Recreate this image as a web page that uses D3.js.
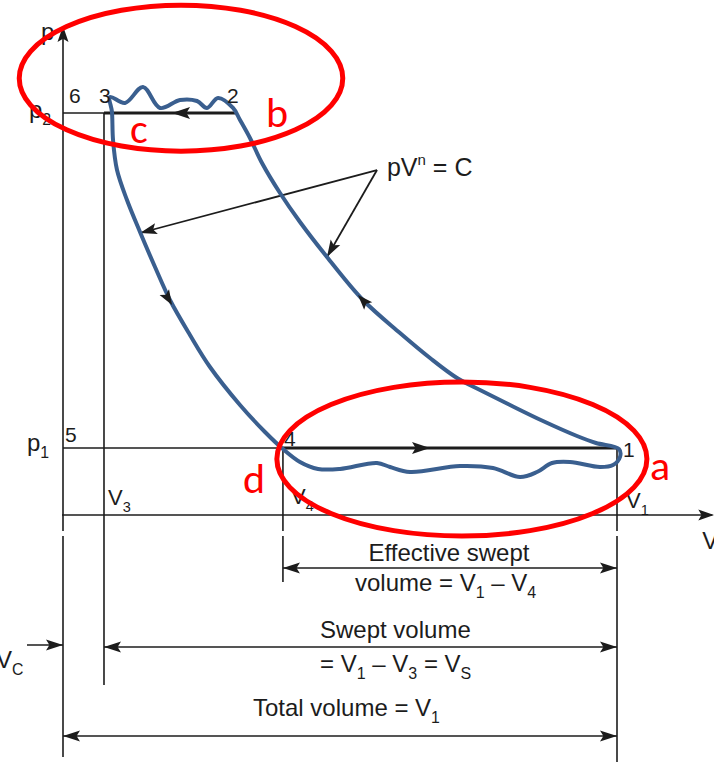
<!DOCTYPE html>
<html><head><meta charset="utf-8">
<script src="https://cdn.jsdelivr.net/npm/d3@7"></script>
<style>body{margin:0;background:#fff}svg{display:block}</style>
</head><body><svg id="c" width="714" height="762"></svg>
<script>
// ---- data (V, p) in arbitrary units ----
const V1 = 10, V2 = 3.105, V3 = 0.74, V4 = 3.97;
const p1 = 1, p2 = 6;
const Vmax = 11.72, pMax = 7.27;

// blue hand-drawn cycle: expansion 3->4, wavy suction 4->1, compression 1->2, wavy delivery 2->3
const expansionCurve = [[0.848,6.239],[0.884,6.015],[0.903,5.597],[0.975,5.149],[1.155,4.701],[1.390,4.224],[1.661,3.701],[1.931,3.209],[2.292,2.687],[2.653,2.209],[3.195,1.642],[3.646,1.239],[3.971,0.985],[4.278,0.791],[4.603,0.687]];
const suctionWave = [[5.000,0.687],[5.668,0.776],[5.903,0.716],[6.264,0.642],[7.166,0.731],[7.762,0.701],[8.249,0.567],[8.556,0.642],[8.827,0.776],[9.152,0.791],[9.693,0.716],[9.928,0.746],[10.054,0.866],[10.036,0.985]];
const compressionCurve = [[9.621,1.075],[9.278,1.179],[8.664,1.403],[8.069,1.642],[7.527,1.866],[7.112,2.045],[6.625,2.343],[6.083,2.716],[5.415,3.209],[4.765,3.851],[4.278,4.373],[3.917,4.806],[3.592,5.254],[3.375,5.627],[3.195,5.896],[3.069,6.075]];
const deliveryWave = [[2.798,6.224],[2.599,6.075],[2.419,6.179],[2.112,6.194],[1.751,6.075],[1.444,6.388],[1.119,6.149]];

// flow arrows on the curves [from, to]
const flowArrows = [[[1.751,3.433],[1.968,3.134]], [[5.542,3.090],[5.325,3.284]]];
// leader arrows for pV^n = C
const leaderOrigin = [5.668,5.149];
const leaderTips = [[1.390,4.209],[4.765,3.851]];
const lawLabelPos = [5.848,5.06];

// state point labels
const stateLabels = [
  {t:"6", V:0, p:p2, dx:6, dy:-10},
  {t:"3", V:V3, p:p2, dx:-5, dy:-10},
  {t:"2", V:V2, p:p2, dx:-8, dy:-10},
  {t:"5", V:0, p:p1, dx:2, dy:-6},
  {t:"4", V:V4, p:p1, dx:1, dy:-2},
  {t:"1", V:V1, p:p1, dx:6, dy:9}
];
// red annotation ellipses (center V,p and radii in V,p units)
const ellipses = [{V:2.13,p:6.52,rV:2.92,rp:1.09},{V:7.20,p:0.836,rV:3.34,rp:1.15}];
const redLabels = [{t:"a",V:10.596,p:0.522},{t:"b",V:3.664,p:5.791},{t:"c",V:1.209,p:5.552},{t:"d",V:3.249,p:0.328}];

// ---- scales ----
const x = d3.scaleLinear().domain([0, V1]).range([63, 617]);
const y = d3.scaleLinear().domain([0, p2]).range([515, 113]);

const svg = d3.select("#c");
svg.append("rect").attr("width",714).attr("height",762).attr("fill","#fff");
const ink = "#1c1c1c";
const FONT = "'Liberation Sans', Arial, Helvetica, sans-serif";

function line(x1,y1,x2,y2,w){ svg.append("line").attr("x1",x1).attr("y1",y1).attr("x2",x2).attr("y2",y2).attr("stroke",ink).attr("stroke-width",w||1.6); }
function head(tx,ty,ang,len,wid){
  const c=Math.cos(ang), s=Math.sin(ang);
  const bx=tx-c*len, by=ty-s*len;
  const pts=[[tx,ty],[bx - s*wid/2, by + c*wid/2],[tx-c*len*0.8, ty-s*len*0.8],[bx + s*wid/2, by - c*wid/2]];
  svg.append("polygon").attr("points",pts.map(d=>d.join(",")).join(" ")).attr("fill",ink);
}
function arrowTo(x1,y1,x2,y2,len,wid){ head(x2,y2,Math.atan2(y2-y1,x2-x1),len,wid); }

const y0 = y(0);
// axes
line(x(0), y(pMax), x(0), y0);
arrowTo(x(0), y0, x(0), y(pMax)-2, 16, 11);
line(x(0)-1, y0, x(Vmax), y0);
arrowTo(x(0), y0, x(Vmax)+2, y0, 16, 11);

// verticals below / above
function vWithGap(xx, top, bottom){
  line(xx, top, xx, y0+16); line(xx, y0+21, xx, bottom);
}
vWithGap(x(0), y0, 757);
line(x(V3), y(p2), x(V3), 685);
line(x(V4), y(p1), x(V4), y0); vWithGap(x(V4), y0, 582);
line(x(V1), y(p1), x(V1), y0); vWithGap(x(V1), y0, 762);

// pressure lines
line(x(0), y(p2), x(V3), y(p2));
line(x(V3), y(p2), x(V2), y(p2), 3);
head(x(1.968), y(p2), Math.PI, 18, 12);
line(x(0), y(p1), x(V4), y(p1));
line(x(V4), y(p1), x(V1), y(p1), 3);
head(x(6.625), y(p1), 0, 18, 12);

// leader arrows
leaderTips.forEach(t=>{
  line(x(leaderOrigin[0]), y(leaderOrigin[1]), x(t[0]), y(t[1]), 1.8);
  arrowTo(x(leaderOrigin[0]), y(leaderOrigin[1]), x(t[0]), y(t[1]), 17, 11);
});
const law = svg.append("text").attr("x",x(lawLabelPos[0])).attr("y",y(lawLabelPos[1])).attr("font-family",FONT).attr("font-size",25).attr("fill",ink);
law.append("tspan").text("pV");
law.append("tspan").attr("dy",-11).attr("font-size",15).text("n");
law.append("tspan").attr("dy",11).text(" = C");

// blue cycle
const cycle = expansionCurve.concat(suctionWave, compressionCurve, deliveryWave);
svg.append("path").datum(cycle)
  .attr("d", d3.line().x(d=>x(d[0])).y(d=>y(d[1])).curve(d3.curveCatmullRomClosed.alpha(0.5)))
  .attr("fill","none").attr("stroke","#3a5f8f").attr("stroke-width",4).attr("stroke-linejoin","round");

flowArrows.forEach(a=> arrowTo(x(a[0][0]),y(a[0][1]),x(a[1][0]),y(a[1][1]),15,11));

// labels
function txt(t,xx,yy,size,anchor){ return svg.append("text").attr("x",xx).attr("y",yy).attr("font-family",FONT).attr("font-size",size).attr("fill",ink).attr("text-anchor",anchor||"start").text(t); }
stateLabels.forEach(d=> txt(d.t, x(d.V)+d.dx, y(d.p)+d.dy, 21));
function sub(main, s, xx, yy, size, anchor){
  const t = svg.append("text").attr("x",xx).attr("y",yy).attr("font-family",FONT).attr("font-size",size).attr("fill",ink).attr("text-anchor",anchor||"start");
  t.append("tspan").text(main);
  t.append("tspan").attr("dy",size*0.3).attr("font-size",size*0.66).text(s);
  return t;
}
txt("p", x(0)-22, y(pMax)+12, 24);
sub("p","2", x(0)-34, y(p2)+5, 24);
sub("p","1", x(0)-36, y(p1)+3, 24);
sub("V","3", x(V3)+4, y0-10, 22);
sub("V","4", x(V4)+8, y0-11, 22);
sub("V","1", x(V1)+9, y0-7, 22);
txt("V", x(Vmax)-10, y0+34, 24);

// dimension arrows
function dim(xa, xb, yy, leftHead, rightHead){
  line(xa, yy, xb, yy, 1.6);
  if(leftHead) head(xa, yy, Math.PI, 17, 11);
  if(rightHead) head(xb, yy, 0, 17, 11);
}
dim(x(V4), x(V1), 568, true, true);
dim(x(V3), x(V1), 647, true, true);
dim(x(0), x(V1), 736, true, true);
line(27, 645, x(0), 645, 1.6); head(x(0), 645, 0, 17, 11);

const FS = 24;
txt("Effective swept", 449, 561, FS, "middle");
const t1 = svg.append("text").attr("x",355).attr("y",591).attr("font-family",FONT).attr("font-size",FS).attr("fill",ink);
t1.append("tspan").text("volume = V");
t1.append("tspan").attr("dy",7).attr("font-size",16).text("1");
t1.append("tspan").attr("dy",-7).text(" \u2013 V");
t1.append("tspan").attr("dy",7).attr("font-size",16).text("4");
txt("Swept volume", 320, 638, FS);
const t2 = svg.append("text").attr("x",320).attr("y",672).attr("font-family",FONT).attr("font-size",FS).attr("fill",ink);
t2.append("tspan").text("= V");
t2.append("tspan").attr("dy",7).attr("font-size",16).text("1");
t2.append("tspan").attr("dy",-7).text(" \u2013 V");
t2.append("tspan").attr("dy",7).attr("font-size",16).text("3");
t2.append("tspan").attr("dy",-7).text(" = V");
t2.append("tspan").attr("dy",7).attr("font-size",16).text("S");
sub("Total volume = V","1", 253, 716, FS);
sub("V","C", -4, 668, 24);

// red ellipses
ellipses.forEach(e=>{
  svg.append("ellipse").attr("cx",x(e.V)).attr("cy",y(e.p))
    .attr("rx", x(e.rV)-x(0)).attr("ry", y(0)-y(e.rp))
    .attr("fill","none").attr("stroke","#ff0000").attr("stroke-width",5);
});
redLabels.forEach(d=>{
  svg.append("text").attr("x",x(d.V)).attr("y",y(d.p)).attr("font-family","Carlito, Lato, 'Open Sans', sans-serif")
    .attr("font-size",42).attr("fill","#ff0000").text(d.t);
});
</script></body></html>
